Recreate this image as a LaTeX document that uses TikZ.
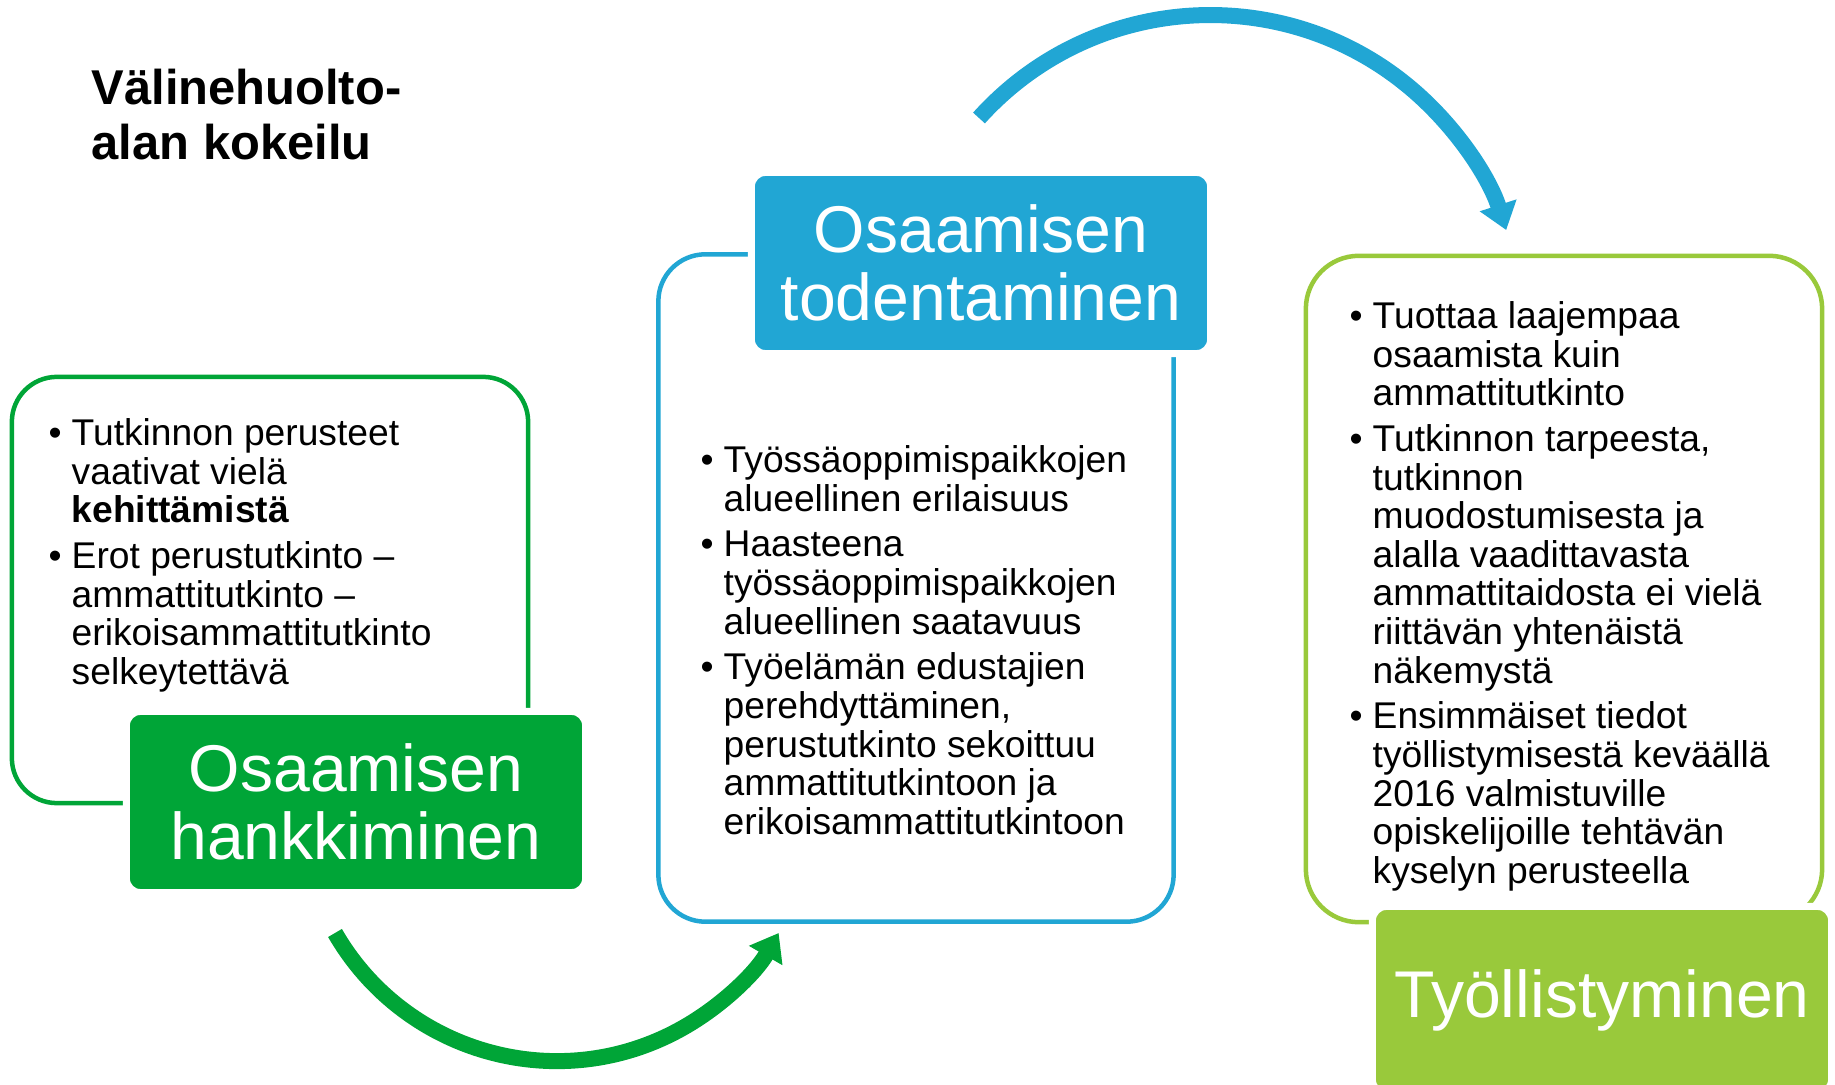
\documentclass[tikz,border=0pt]{standalone}
\usepackage{fontspec}
\setmainfont{Liberation Sans}
\usetikzlibrary{arrows.meta}

\definecolor{hgreen}{HTML}{00A537}
\definecolor{tblue}{HTML}{21A6D4}
\definecolor{tlime}{HTML}{99C93B}

\newcommand{\bul}{\makebox[0.23cm][l]{\textbullet}}
\newcommand{\ind}{\hspace*{0.23cm}}

\tikzset{
  framebox/.style={draw=#1, line width=0.045cm, rounded corners=0.45cm, inner sep=0},
  headbox/.style={fill=#1, draw=white, line width=0.07cm, rounded corners=0.14cm,
    minimum width=4.59cm, minimum height=1.81cm, text=white, align=center, inner sep=0,
    font=\fontsize{18.8pt}{19.35pt}\selectfont},
  bullets/.style={anchor=north west, inner sep=0, align=left,
    font=\fontsize{10.58pt}{10.98pt}\selectfont},
  cyclearrow/.style={draw=#1, line width=0.16cm, -{Triangle[width=0.37cm,length=0.26cm]}},
}

\begin{document}
\begin{tikzpicture}[x=0.01cm, y=0.01cm]
\useasboundingbox (0,0) rectangle (1835,1084);

\node (title) at (91,1016) [anchor=north west, inner sep=0, align=left,
  font=\bfseries\fontsize{13.9pt}{15.65pt}\selectfont] {Välinehuolto-\\alan kokeilu};

\node (gbox) at (270,494) [framebox=hgreen, minimum width=5.16cm, minimum height=4.26cm] {};
\node (bbox) at (916,496) [framebox=tblue, minimum width=5.15cm, minimum height=6.67cm, rounded corners=0.47cm] {};
\node (lbox) at (1564,495) [framebox=tlime, minimum width=5.16cm, minimum height=6.66cm, rounded corners=0.53cm] {};

\node (gtitle) at (356,282) [headbox=hgreen] {Osaamisen\\hankkiminen};
\node (btitle) at (981,821) [headbox=tblue] {Osaamisen\\todentaminen};
\node (ltitle) at (1602,84) [headbox=tlime, minimum height=1.87cm] {Työllistyminen};

\node (gtext) at (48,666) [bullets] {\bul Tutkinnon perusteet\\ \ind vaativat vielä\\ \ind\textbf{kehittämistä}\\[2pt]
  \bul Erot perustutkinto –\\ \ind ammattitutkinto –\\ \ind erikoisammattitutkinto\\ \ind selkeytettävä};

\node (btext) at (700,639) [bullets] {\bul Työssäoppimispaikkojen\\ \ind alueellinen erilaisuus\\[2pt]
  \bul Haasteena\\ \ind työssäoppimispaikkojen\\ \ind alueellinen saatavuus\\[2pt]
  \bul Työelämän edustajien\\ \ind perehdyttäminen,\\ \ind perustutkinto sekoittuu\\ \ind ammattitutkintoon ja\\ \ind erikoisammattitutkintoon};

\node (ltext) at (1349,783) [bullets] {\bul Tuottaa laajempaa\\ \ind osaamista kuin\\ \ind ammattitutkinto\\[2pt]
  \bul Tutkinnon tarpeesta,\\ \ind tutkinnon\\ \ind muodostumisesta ja\\ \ind alalla vaadittavasta\\ \ind ammattitaidosta ei vielä\\ \ind riittävän yhtenäistä\\ \ind näkemystä\\[2pt]
  \bul Ensimmäiset tiedot\\ \ind työllistymisestä keväällä\\ \ind 2016 valmistuville\\ \ind opiskelijoille tehtävän\\ \ind kyselyn perusteella};

\coordinate (gstart) at (335,151);
\draw[cyclearrow=hgreen] (gstart) arc[start angle=210, end angle=330, radius=2.56cm];
\coordinate (bstart) at (979,966);
\draw[cyclearrow=tblue] (bstart) arc[start angle=138, end angle=18, radius=3.11cm];
\end{tikzpicture}
\end{document}
